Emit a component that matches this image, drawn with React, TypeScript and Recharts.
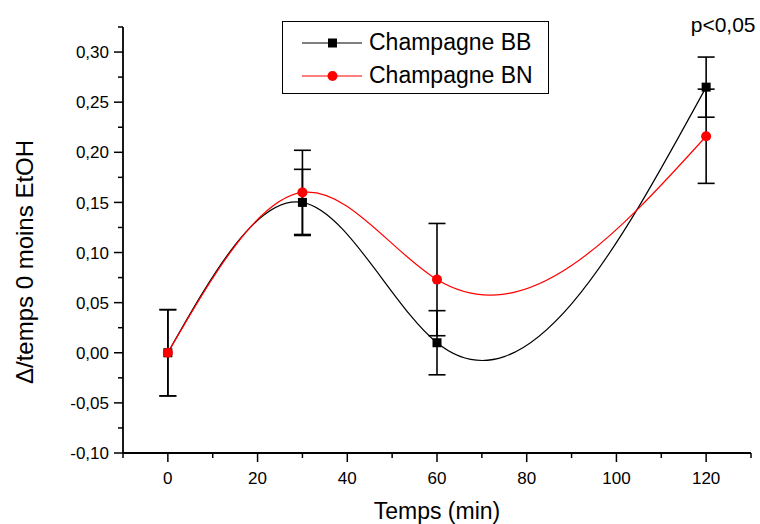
import { LineChart, Line, XAxis, YAxis, ErrorBar, Legend, Label, ReferenceDot } from "recharts";

const times = [0, 30, 60, 120];
const bbValues = [0, 0.15, 0.01, 0.265];
const bbErrors = [0.043, 0.033, 0.032, 0.03];
const bnValues = [0, 0.16, 0.073, 0.216];
const bnErrors = [0.043, 0.042, 0.056, 0.047];
const seriesNames = ["Champagne BB", "Champagne BN"];

const xTicks = [-10, 0, 10, 20, 30, 40, 50, 60, 70, 80, 90, 100, 110, 120, 130];
const xMajor = [0, 20, 40, 60, 80, 100, 120];
const yTicks = [
  -0.1, -0.075, -0.05, -0.025, 0, 0.025, 0.05, 0.075, 0.1, 0.125, 0.15, 0.175, 0.2, 0.225, 0.25,
  0.275, 0.3, 0.325,
];

const FONT = "'Liberation Sans', Arial, sans-serif";

const data = times.map((t, i) => ({
  t,
  bb: bbValues[i],
  bbErr: bbErrors[i],
  bn: bnValues[i],
  bnErr: bnErrors[i],
}));

const fmt = (v: number) => v.toFixed(2).replace(".", ",");

// natural cubic spline with y as a function of x (like Origin's spline), used as a d3 curve
function xSpline(context: any) {
  let xs: number[] = [];
  let ys: number[] = [];
  return {
    areaStart() {},
    areaEnd() {},
    lineStart() {
      xs = [];
      ys = [];
    },
    point(x: number, y: number) {
      xs.push(+x);
      ys.push(+y);
    },
    lineEnd() {
      const n = xs.length;
      if (n === 0) return;
      context.moveTo(xs[0], ys[0]);
      if (n === 1) return;
      if (n === 2) {
        context.lineTo(xs[1], ys[1]);
        return;
      }
      const h: number[] = [];
      for (let i = 0; i < n - 1; i++) h.push(xs[i + 1] - xs[i]);
      const a: number[] = [];
      const b: number[] = [];
      const c: number[] = [];
      const d: number[] = [];
      for (let i = 1; i < n - 1; i++) {
        a.push(h[i - 1]);
        b.push(2 * (h[i - 1] + h[i]));
        c.push(h[i]);
        d.push(6 * ((ys[i + 1] - ys[i]) / h[i] - (ys[i] - ys[i - 1]) / h[i - 1]));
      }
      const m = b.length;
      for (let i = 1; i < m; i++) {
        const w = a[i] / b[i - 1];
        b[i] -= w * c[i - 1];
        d[i] -= w * d[i - 1];
      }
      const M = new Array(n).fill(0);
      M[m] = d[m - 1] / b[m - 1];
      for (let i = m - 2; i >= 0; i--) M[i + 1] = (d[i] - c[i] * M[i + 2]) / b[i];
      for (let i = 0; i < n - 1; i++) {
        const hi = h[i];
        const slope = (ys[i + 1] - ys[i]) / hi;
        const s0 = slope - (hi * (2 * M[i] + M[i + 1])) / 6;
        const s1 = slope + (hi * (M[i] + 2 * M[i + 1])) / 6;
        context.bezierCurveTo(
          xs[i] + hi / 3,
          ys[i] + (s0 * hi) / 3,
          xs[i + 1] - hi / 3,
          ys[i + 1] - (s1 * hi) / 3,
          xs[i + 1],
          ys[i + 1]
        );
      }
    },
  };
}

function XTick(props: any) {
  const { x, y, payload } = props;
  const major = xMajor.includes(payload.value);
  return (
    <g>
      <line x1={x} y1={y} x2={x} y2={y + (major ? 9 : 5)} stroke="#000" strokeWidth={1.5} />
      {major && (
        <text x={x} y={y + 31} textAnchor="middle" fontSize={17} fontFamily={FONT} fill="#000">
          {payload.value}
        </text>
      )}
    </g>
  );
}

function YTick(props: any) {
  const { x, y, payload } = props;
  const major = Math.round(payload.value * 1000) % 50 === 0;
  return (
    <g>
      <line x1={x - (major ? 9 : 5)} y1={y} x2={x} y2={y} stroke="#000" strokeWidth={1.5} />
      {major && (
        <text x={x - 14} y={y} dy="0.36em" textAnchor="end" fontSize={17} fontFamily={FONT} fill="#000">
          {fmt(payload.value)}
        </text>
      )}
    </g>
  );
}

const squareDot = (props: any) => (
  <rect
    key={`bb-${props.index}`}
    x={props.cx - 4.5}
    y={props.cy - 4.5}
    width={9}
    height={9}
    fill="#000"
  />
);

const circleDot = (props: any) => (
  <circle key={`bn-${props.index}`} cx={props.cx} cy={props.cy} r={5} fill="#ff0000" />
);

function LegendBox() {
  const rows = [
    { name: seriesNames[0], color: "#000", square: true },
    { name: seriesNames[1], color: "#ff0000", square: false },
  ];
  return (
    <div
      style={{
        border: "1px solid #000",
        width: 267,
        height: 73,
        boxSizing: "border-box",
        paddingTop: 4,
        fontFamily: FONT,
        fontSize: 23,
        background: "#fff",
      }}
    >
      {rows.map((r) => (
        <div key={r.name} style={{ display: "flex", alignItems: "center", height: 33, paddingLeft: 19 }}>
          <svg width={60} height={20} style={{ marginRight: 7 }}>
            <line x1={0} y1={10} x2={60} y2={10} stroke={r.color} strokeWidth={1.2} />
            {r.square ? (
              <rect x={26} y={5.5} width={9} height={9} fill={r.color} />
            ) : (
              <circle cx={30.5} cy={10} r={5} fill={r.color} />
            )}
          </svg>
          <span style={{ color: "#000", lineHeight: "23px" }}>{r.name}</span>
        </div>
      ))}
    </div>
  );
}

export default function App() {
  return (
    <div style={{ position: "absolute", left: 0, top: 0, width: 760, height: 524, background: "#fff" }}>
      <LineChart width={760} height={524} data={data} margin={{ top: 27, right: 9, left: 0, bottom: 0 }}>
        <XAxis
          dataKey="t"
          type="number"
          domain={[-10, 130]}
          ticks={xTicks}
          interval={0}
          allowDataOverflow
          height={71}
          tickSize={0}
          tickMargin={0}
          tickLine={false}
          tick={XTick}
          axisLine={{ stroke: "#000", strokeWidth: 1.8 }}
        >
          <Label
            content={(p: any) => {
              const vb = p.viewBox;
              return (
                <text x={vb.x + vb.width / 2} y={vb.y + 66} textAnchor="middle" fontSize={23} fontFamily={FONT} fill="#000">
                  Temps (min)
                </text>
              );
            }}
          />
        </XAxis>
        <YAxis
          type="number"
          domain={[-0.1, 0.325]}
          ticks={yTicks}
          interval={0}
          allowDataOverflow
          width={123}
          tickSize={0}
          tickMargin={0}
          tickLine={false}
          tick={YTick}
          axisLine={{ stroke: "#000", strokeWidth: 1.8 }}
        >
          <Label
            content={(p: any) => {
              const vb = p.viewBox;
              const cy = vb.y + vb.height / 2 + 22;
              return (
                <text
                  transform={`translate(33, ${cy}) rotate(-90)`}
                  textAnchor="middle"
                  fontSize={24}
                  fontFamily={FONT}
                  fill="#000"
                >
                  Δ/temps 0 moins EtOH
                </text>
              );
            }}
          />
        </YAxis>
        <Legend
          layout="vertical"
          verticalAlign="middle"
          align="center"
          content={() => <LegendBox />}
          wrapperStyle={{ left: 282, top: 21, width: 267, height: 73 }}
        />
        <Line
          dataKey="bb"
          name={seriesNames[0]}
          type={xSpline as any}
          stroke="#000"
          strokeWidth={1.2}
          dot={squareDot}
          activeDot={false}
          isAnimationActive={false}
        >
          <ErrorBar dataKey="bbErr" direction="y" width={8.5} stroke="#000" strokeWidth={1.6} />
        </Line>
        <Line
          dataKey="bn"
          name={seriesNames[1]}
          type={xSpline as any}
          stroke="#ff0000"
          strokeWidth={1.2}
          dot={circleDot}
          activeDot={false}
          isAnimationActive={false}
        >
          <ErrorBar dataKey="bnErr" direction="y" width={8.5} stroke="#000" strokeWidth={1.6} />
        </Line>
        <ReferenceDot
          x={120}
          y={0.325}
          r={1}
          fill="none"
          stroke="none"
          ifOverflow="visible"
          label={(p: any) => (
            <text x={p.viewBox.x + 18} y={p.viewBox.y + 6} textAnchor="middle" fontSize={21} fontFamily={FONT} fill="#000">
              p&lt;0,05
            </text>
          )}
        />
      </LineChart>
    </div>
  );
}
